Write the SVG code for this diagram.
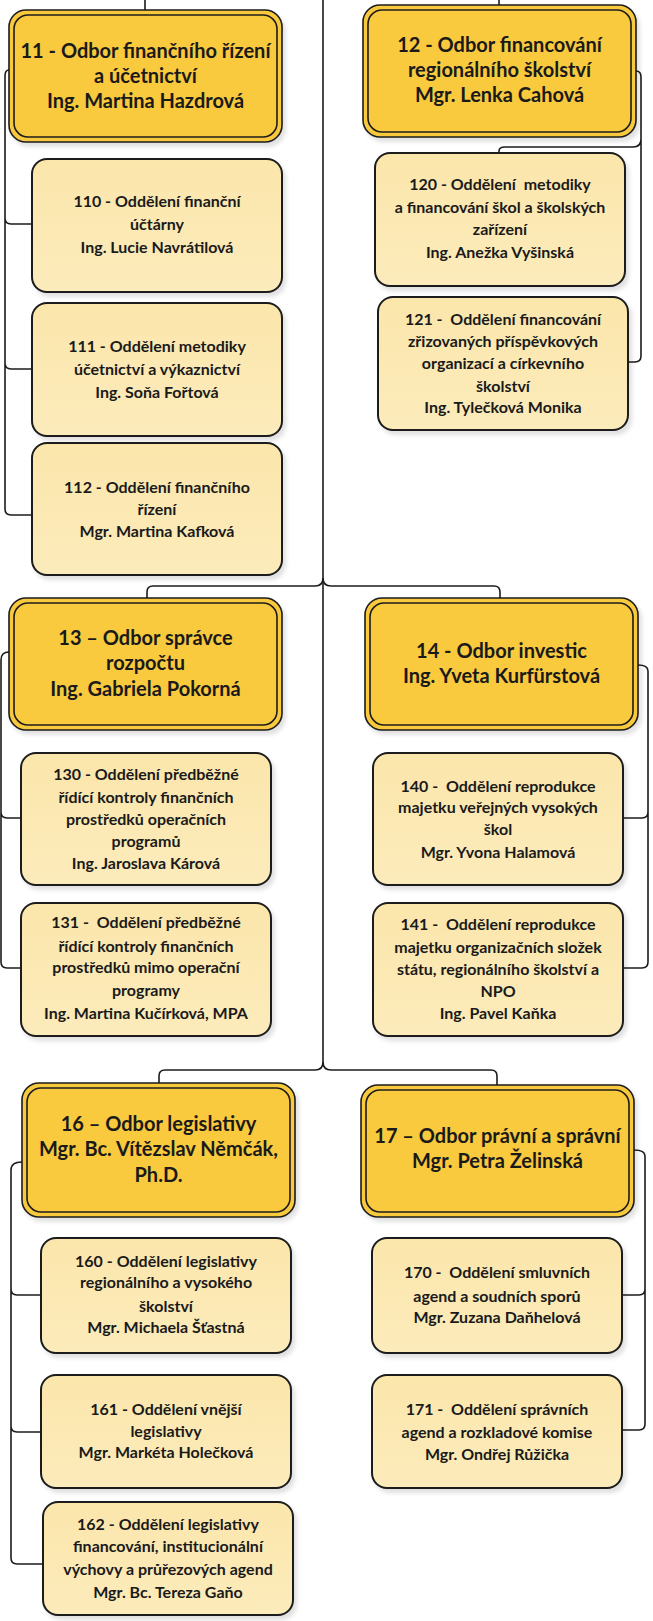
<svg xmlns="http://www.w3.org/2000/svg" width="653" height="1621" viewBox="0 0 653 1621">
<defs>
<filter id="sh" x="-10%" y="-10%" width="130%" height="130%">
<feDropShadow dx="3" dy="4" stdDeviation="2" flood-color="#000" flood-opacity="0.12"/>
</filter>
<linearGradient id="cg" x1="0" y1="0" x2="0" y2="1">
<stop offset="0" stop-color="#FBE6AB"/>
<stop offset="1" stop-color="#FCEBBB"/>
</linearGradient>
</defs>
<style>
.po{fill:#F9C93E;stroke:#1c1c1c;stroke-width:1.6}
.pi{fill:#F9C93E;stroke:#1c1c1c;stroke-width:1.6}
.ch{fill:url(#cg);stroke:#1c1c1c;stroke-width:2}
.pt{font-family:Lato,"Liberation Sans",sans-serif;font-weight:700;font-size:20px;fill:#1a1a1a;text-anchor:middle}
.ct{font-family:Lato,"Liberation Sans",sans-serif;font-weight:700;font-size:16px;fill:#1a1a1a;text-anchor:middle}
.ct tspan,.pt tspan{white-space:pre}
.cn{fill:none;stroke:#1c1c1c;stroke-width:1.6}
</style>
<rect width="653" height="1621" fill="#fff"/>
<g id="connectors">
<path class="cn" d="M145,0 V10 M499,0 V5 M323,0 V1062"/>
<path class="cn" d="M323,578 Q323,586 315,586 H153 Q147,586 147,592 V598"/>
<path class="cn" d="M323,578 Q323,586 331,586 H494 Q500,586 500,592 V598"/>
<path class="cn" d="M323,1062 Q323,1070 315,1070 H165 Q159,1070 159,1076 V1083"/>
<path class="cn" d="M323,1062 Q323,1070 331,1070 H491 Q497,1070 497,1076 V1085"/>
<path class="cn" d="M9,70 Q5,70 5,76 V509 Q5,515 11,515 H32 M5,218 Q5,224 11,224 H32 M5,363 Q5,369 11,369 H32"/>
<path class="cn" d="M636,71 Q641,71 641,77 V356 Q641,362 635,362 H628 M641,139 Q641,147 633,147 H505 Q499,147 499,151 V153"/>
<path class="cn" d="M9,652 Q1,652 1,660 V962 Q1,968 7,968 H21 M1,812 Q1,818 7,818 H21"/>
<path class="cn" d="M638,665 Q648,665 648,671 V962 Q648,968 642,968 H623 M648,812 Q648,818 642,818 H623"/>
<path class="cn" d="M22,1162 Q11,1162 11,1170 V1558 Q11,1564 17,1564 H43 M11,1289 Q11,1295 17,1295 H41 M11,1426 Q11,1432 17,1432 H41"/>
<path class="cn" d="M634,1150 Q645,1150 645,1156 V1424 Q645,1430 639,1430 H622 M645,1289 Q645,1295 639,1295 H622"/>
</g>
<g id="n11"><rect class="po" x="9" y="10" width="273" height="132" rx="17" filter="url(#sh)"/><rect class="pi" x="14" y="15" width="263" height="122" rx="14"/><text class="pt"><tspan x="145.5" y="58">11 - Odbor finančního řízení</tspan><tspan x="145.5" y="83">a účetnictví</tspan><tspan x="145.5" y="108">Ing. Martina Hazdrová</tspan></text></g>
<g id="n12"><rect class="po" x="363" y="5" width="273" height="132" rx="17" filter="url(#sh)"/><rect class="pi" x="368" y="10" width="263" height="122" rx="14"/><text class="pt"><tspan x="499.5" y="52">12 - Odbor financování</tspan><tspan x="499.5" y="77">regionálního školství</tspan><tspan x="499.5" y="102">Mgr. Lenka Cahová</tspan></text></g>
<g id="n13"><rect class="po" x="9" y="598" width="273" height="132" rx="17" filter="url(#sh)"/><rect class="pi" x="14" y="603" width="263" height="122" rx="14"/><text class="pt"><tspan x="145.5" y="645">13 – Odbor správce</tspan><tspan x="145.5" y="670">rozpočtu</tspan><tspan x="145.5" y="696">Ing. Gabriela Pokorná</tspan></text></g>
<g id="n14"><rect class="po" x="365" y="598" width="273" height="132" rx="17" filter="url(#sh)"/><rect class="pi" x="370" y="603" width="263" height="122" rx="14"/><text class="pt"><tspan x="501.5" y="658">14 - Odbor investic</tspan><tspan x="501.5" y="683">Ing. Yveta Kurfürstová</tspan></text></g>
<g id="n16"><rect class="po" x="22" y="1083" width="273" height="134" rx="17" filter="url(#sh)"/><rect class="pi" x="27" y="1088" width="263" height="124" rx="14"/><text class="pt"><tspan x="158.5" y="1131">16 – Odbor legislativy</tspan><tspan x="158.5" y="1156">Mgr. Bc. Vítězslav Němčák,</tspan><tspan x="158.5" y="1182">Ph.D.</tspan></text></g>
<g id="n17"><rect class="po" x="361" y="1085" width="273" height="132" rx="17" filter="url(#sh)"/><rect class="pi" x="366" y="1090" width="263" height="122" rx="14"/><text class="pt"><tspan x="497.5" y="1143">17 – Odbor právní a správní</tspan><tspan x="497.5" y="1168">Mgr. Petra Želinská</tspan></text></g>
<g id="n110"><rect class="ch" x="32" y="159" width="250" height="133" rx="15" filter="url(#sh)"/><text class="ct"><tspan x="157" y="207">110 - Oddělení finanční</tspan><tspan x="157" y="230">účtárny</tspan><tspan x="157" y="253">Ing. Lucie Navrátilová</tspan></text></g>
<g id="n111"><rect class="ch" x="32" y="303" width="250" height="133" rx="15" filter="url(#sh)"/><text class="ct"><tspan x="157" y="352">111 - Oddělení metodiky</tspan><tspan x="157" y="375">účetnictví a výkaznictví</tspan><tspan x="157" y="398">Ing. Soňa Fořtová</tspan></text></g>
<g id="n112"><rect class="ch" x="32" y="443" width="250" height="132" rx="15" filter="url(#sh)"/><text class="ct"><tspan x="157" y="493">112 - Oddělení finančního</tspan><tspan x="157" y="515">řízení</tspan><tspan x="157" y="537">Mgr. Martina Kafková</tspan></text></g>
<g id="n120"><rect class="ch" x="375" y="153" width="250" height="133" rx="15" filter="url(#sh)"/><text class="ct"><tspan x="500" y="190">120 - Oddělení  metodiky</tspan><tspan x="500" y="213">a financování škol a školských</tspan><tspan x="500" y="235">zařízení</tspan><tspan x="500" y="258">Ing. Anežka Vyšinská</tspan></text></g>
<g id="n121"><rect class="ch" x="378" y="297" width="250" height="133" rx="15" filter="url(#sh)"/><text class="ct"><tspan x="503" y="325">121 -  Oddělení financování</tspan><tspan x="503" y="347">zřizovaných příspěvkových</tspan><tspan x="503" y="369">organizací a církevního</tspan><tspan x="503" y="392">školství</tspan><tspan x="503" y="413">Ing. Tylečková Monika</tspan></text></g>
<g id="n130"><rect class="ch" x="21" y="753" width="250" height="132" rx="15" filter="url(#sh)"/><text class="ct"><tspan x="146" y="780">130 - Oddělení předběžné</tspan><tspan x="146" y="803">řídící kontroly finančních</tspan><tspan x="146" y="825">prostředků operačních</tspan><tspan x="146" y="847">programů</tspan><tspan x="146" y="869">Ing. Jaroslava Kárová</tspan></text></g>
<g id="n131"><rect class="ch" x="21" y="903" width="250" height="133" rx="15" filter="url(#sh)"/><text class="ct"><tspan x="146" y="928">131 -  Oddělení předběžné</tspan><tspan x="146" y="952">řídící kontroly finančních</tspan><tspan x="146" y="973">prostředků mimo operační</tspan><tspan x="146" y="996">programy</tspan><tspan x="146" y="1019">Ing. Martina Kučírková, MPA</tspan></text></g>
<g id="n140"><rect class="ch" x="373" y="753" width="250" height="132" rx="15" filter="url(#sh)"/><text class="ct"><tspan x="498" y="792">140 -  Oddělení reprodukce</tspan><tspan x="498" y="813">majetku veřejných vysokých</tspan><tspan x="498" y="835">škol</tspan><tspan x="498" y="858">Mgr. Yvona Halamová</tspan></text></g>
<g id="n141"><rect class="ch" x="373" y="903" width="250" height="133" rx="15" filter="url(#sh)"/><text class="ct"><tspan x="498" y="930">141 -  Oddělení reprodukce</tspan><tspan x="498" y="953">majetku organizačních složek</tspan><tspan x="498" y="975">státu, regionálního školství a</tspan><tspan x="498" y="997">NPO</tspan><tspan x="498" y="1019">Ing. Pavel Kaňka</tspan></text></g>
<g id="n160"><rect class="ch" x="41" y="1238" width="250" height="115" rx="15" filter="url(#sh)"/><text class="ct"><tspan x="166" y="1267">160 - Oddělení legislativy</tspan><tspan x="166" y="1288">regionálního a vysokého</tspan><tspan x="166" y="1312">školství</tspan><tspan x="166" y="1333">Mgr. Michaela Šťastná</tspan></text></g>
<g id="n161"><rect class="ch" x="41" y="1375" width="250" height="113" rx="15" filter="url(#sh)"/><text class="ct"><tspan x="166" y="1415">161 - Oddělení vnější</tspan><tspan x="166" y="1437">legislativy</tspan><tspan x="166" y="1458">Mgr. Markéta Holečková</tspan></text></g>
<g id="n162"><rect class="ch" x="43" y="1502" width="250" height="113" rx="15" filter="url(#sh)"/><text class="ct"><tspan x="168" y="1530">162 - Oddělení legislativy</tspan><tspan x="168" y="1552">financování, institucionální</tspan><tspan x="168" y="1575">výchovy a průřezových agend</tspan><tspan x="168" y="1598">Mgr. Bc. Tereza Gaňo</tspan></text></g>
<g id="n170"><rect class="ch" x="372" y="1238" width="250" height="115" rx="15" filter="url(#sh)"/><text class="ct"><tspan x="497" y="1278">170 -  Oddělení smluvních</tspan><tspan x="497" y="1302">agend a soudních sporů</tspan><tspan x="497" y="1323">Mgr. Zuzana Daňhelová</tspan></text></g>
<g id="n171"><rect class="ch" x="372" y="1375" width="250" height="113" rx="15" filter="url(#sh)"/><text class="ct"><tspan x="497" y="1415">171 -  Oddělení správních</tspan><tspan x="497" y="1438">agend a rozkladové komise</tspan><tspan x="497" y="1460">Mgr. Ondřej Růžička</tspan></text></g>
</svg>
